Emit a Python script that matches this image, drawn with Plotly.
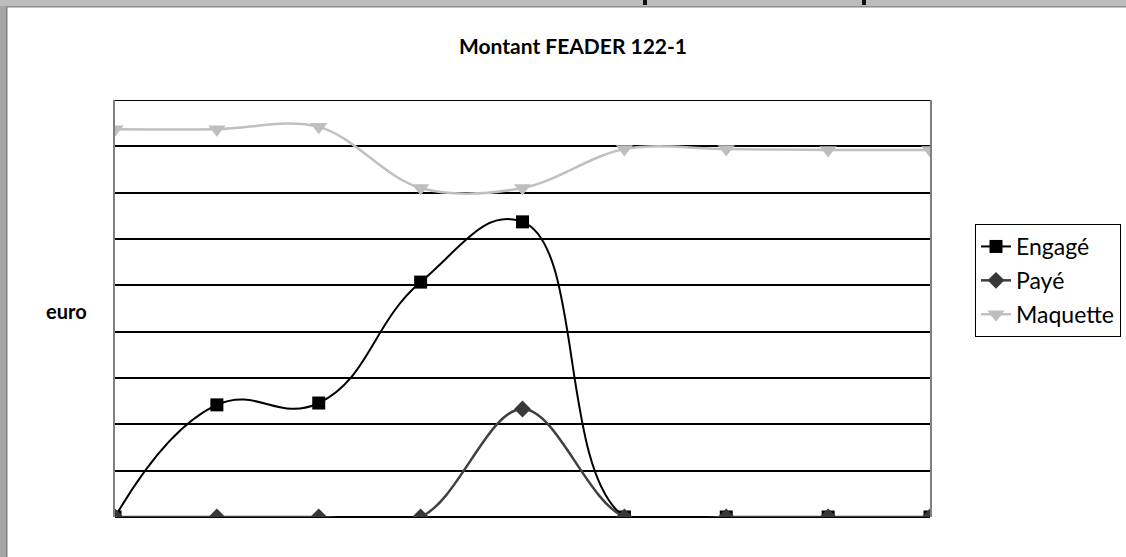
import plotly.graph_objects as go

# Data (euro) (gridline step = 200 000)
categories = ["2007", "2008", "2009", "2010", "2011", "2012", "2013", "2014", "2015"]
engage = [0, 484000, 492000, 1014000, 1274000, 0, 0, 0, 0]
paye = [0, 0, 0, 0, 466000, 0, 0, 0, 0]
maquette = [1674000, 1674000, 1684000, 1420000, 1420000, 1588000, 1588000, 1584000, 1584000]
y_max = 1800000
y_step = 200000

W, H = 1126, 557
ML, MR, MT, MB = 115, 196, 100, 40
PW, PH = W - ML - MR, H - MT - MB

def px_x(px):
    return (px - ML) / PW

def px_y(py):
    return 1 - (py - MT) / PH

FONT = "Lato"

fig = go.Figure()
fig.add_trace(go.Scatter(
    x=categories, y=engage, name="Engagé", mode="lines+markers", legendgroup="a",
    line=dict(color="#000000", width=2, shape="spline", smoothing=1.3),
    marker=dict(symbol="square", size=13, color="#000000"),
))
fig.add_trace(go.Scatter(
    x=categories, y=paye, name="Payé", mode="lines+markers", legendgroup="b",
    line=dict(color="#404040", width=2.5, shape="spline", smoothing=1.0),
    marker=dict(symbol="diamond", size=13, color="#383838"),
))
fig.add_trace(go.Scatter(
    x=categories, y=maquette, name="Maquette", mode="lines+markers", legendgroup="c",
    line=dict(color="#C0C0C0", width=2.5, shape="spline", smoothing=1.0),
    marker=dict(symbol="triangle-down", size=15, color="#BEBEBE"),
))

shapes = [
    # top gridline (edge of the value range)
    dict(type="line", xref="paper", yref="y", x0=0, x1=1, y0=y_max, y1=y_max,
         line=dict(color="#000000", width=2), layer="below"),
    # outer frame pieces (left and top gray borders)
    dict(type="rect", xref="paper", yref="paper", x0=px_x(0), x1=px_x(6), y0=px_y(H), y1=px_y(0),
         fillcolor="#A6A6A6", line=dict(width=0), layer="above"),
    dict(type="rect", xref="paper", yref="paper", x0=px_x(6), x1=px_x(7.5), y0=px_y(H), y1=px_y(7),
         fillcolor="#808080", line=dict(width=0), layer="above"),
    dict(type="rect", xref="paper", yref="paper", x0=px_x(0), x1=px_x(W), y0=px_y(6), y1=px_y(0),
         fillcolor="#BDBDBD", line=dict(width=0), layer="above"),
    dict(type="rect", xref="paper", yref="paper", x0=px_x(6), x1=px_x(W), y0=px_y(7.5), y1=px_y(6),
         fillcolor="#8C8C8C", line=dict(width=0), layer="above"),
    dict(type="rect", xref="paper", yref="paper", x0=px_x(643), x1=px_x(647), y0=px_y(5), y1=px_y(0),
         fillcolor="#111111", line=dict(width=0), layer="above"),
    dict(type="rect", xref="paper", yref="paper", x0=px_x(862), x1=px_x(866), y0=px_y(5), y1=px_y(0),
         fillcolor="#111111", line=dict(width=0), layer="above"),
]

fig.update_layout(
    width=W, height=H,
    margin=dict(l=ML, r=MR, t=MT, b=MB, pad=0, autoexpand=False),
    paper_bgcolor="white", plot_bgcolor="white",
    font=dict(family=FONT, color="#000000"),
    title=dict(text="<b>Montant FEADER 122-1</b>", x=573 / W, xref="container", xanchor="center",
               y=1 - 47 / H, yref="container", yanchor="middle",
               font=dict(family=FONT, size=21, color="#000000")),
    showlegend=True,
    legend=dict(
        x=px_x(975), y=px_y(224), xref="paper", yref="paper", xanchor="left", yanchor="top",
        bordercolor="#000000", borderwidth=1, bgcolor="white",
        font=dict(family=FONT, size=23, color="#000000"),
        itemwidth=30, tracegroupgap=1,
    ),
    xaxis=dict(
        type="category", range=[0, len(categories) - 1], showgrid=False, showticklabels=False,
        ticks="", showline=False, zeroline=False, fixedrange=True,
    ),
    yaxis=dict(
        range=[0, y_max], dtick=y_step, tick0=0, showgrid=True, gridcolor="#000000", gridwidth=2,
        zeroline=True, zerolinecolor="#000000", zerolinewidth=2,
        showline=True, linecolor="#808080", linewidth=2, mirror=True,
        showticklabels=False, ticks="",
    ),
    shapes=shapes,
    annotations=[dict(text="<b>euro</b>", x=px_x(66), y=px_y(311), xref="paper", yref="paper",
                      xanchor="center", yanchor="middle", showarrow=False,
                      font=dict(family=FONT, size=20, color="#000000"))],
)

fig.write_html("out.html", config={"displayModeBar": False},
               post_script="document.body.style.margin='0';document.body.style.padding='0';")
